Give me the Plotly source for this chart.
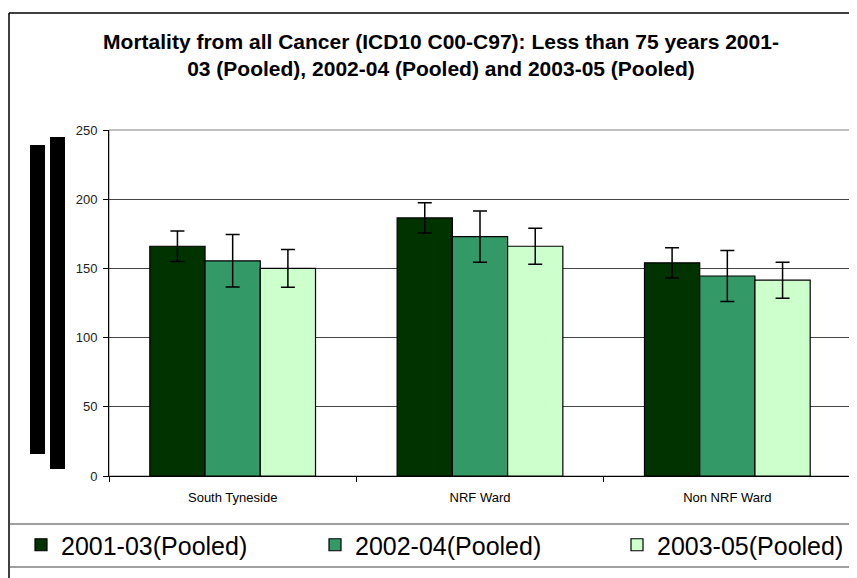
import plotly.graph_objects as go

categories = ["South Tyneside", "NRF Ward", "Non NRF Ward"]
series_names = ["2001-03(Pooled)", "2002-04(Pooled)", "2003-05(Pooled)"]
values_2001 = [166, 186.5, 154]
values_2002 = [155.5, 173, 144.5]
values_2003 = [150, 166, 141.5]
err_2001 = [11, 11, 11]
err_2002 = [19, 18.5, 18.5]
err_2003 = [13.7, 13, 13]
colors = ["#003300", "#339966", "#CCFFCC"]
y_ticks = [0, 50, 100, 150, 200, 250]

# page body has an 8px margin; work in screen pixels and shift
OFF = 8
W, H = 857 - OFF, 578 - OFF
L, R, T, B = 109 - OFF, 851 - OFF, 130 - OFF, 476 - OFF
pw, ph = R - L, B - T

def px(x):  # screen x -> paper
    return (x - OFF - L) / pw

def py(y):  # screen y -> paper
    return (B - (y - OFF)) / ph

fig = go.Figure()
legend_ids = ["legend", "legend2", "legend3"]
for name, vals, errs, col, lg in zip(series_names, [values_2001, values_2002, values_2003],
                                     [err_2001, err_2002, err_2003], colors, legend_ids):
    fig.add_trace(go.Bar(
        x=categories, y=vals, name=name, legend=lg, showlegend=True,
        marker=dict(color=col, line=dict(color="#000000", width=1.2)),
        error_y=dict(type="data", array=errs, visible=True, color="#000000",
                     thickness=1.5, width=7),
    ))

shapes = [
    dict(type="rect", xref="paper", yref="paper", x0=0, x1=1, y0=0, y1=1,
         line=dict(color="#808080", width=1), layer="below"),
    dict(type="line", xref="paper", yref="paper", x0=px(9), x1=px(870), y0=py(13), y1=py(13),
         line=dict(color="#000000", width=1.5)),
    dict(type="line", xref="paper", yref="paper", x0=px(9), x1=px(9), y0=py(13), y1=py(600),
         line=dict(color="#000000", width=1.5)),
    dict(type="line", xref="paper", yref="paper", x0=px(9), x1=px(870), y0=py(524), y1=py(524),
         line=dict(color="#404040", width=1.2)),
    dict(type="line", xref="paper", yref="paper", x0=px(9), x1=px(870), y0=py(567), y1=py(567),
         line=dict(color="#404040", width=1.2)),
    dict(type="rect", xref="paper", yref="paper", x0=px(30), x1=px(45), y0=py(454), y1=py(145),
         fillcolor="#000000", line=dict(width=0)),
    dict(type="rect", xref="paper", yref="paper", x0=px(50), x1=px(65), y0=py(469), y1=py(137),
         fillcolor="#000000", line=dict(width=0)),
]

def leg(text_x):
    return dict(orientation="h", x=px(text_x - 41), xanchor="left", y=py(545), yanchor="middle",
                font=dict(size=25, family="Arial, Liberation Sans, sans-serif", color="#000000"),
                bgcolor="rgba(0,0,0,0)", itemclick=False, itemdoubleclick=False, visible=True)

fig.update_layout(
    width=W, height=H, showlegend=True,
    margin=dict(l=L, r=W - R, t=T, b=H - B, pad=0),
    paper_bgcolor="#ffffff", plot_bgcolor="#ffffff",
    barmode="group", bargap=0.33, bargroupgap=0,
    font=dict(family="Arial, Liberation Sans, sans-serif", color="#000000"),
    title=dict(
        text="<b>Mortality from all Cancer (ICD10 C00-C97): Less than 75 years 2001-<br>"
             "03 (Pooled), 2002-04 (Pooled) and 2003-05 (Pooled)</b>",
        x=px(441), xanchor="center", xref="paper",
        y=1 - (49 - OFF) / H, yanchor="middle",
        font=dict(size=21, family="Arial, Liberation Sans, sans-serif", color="#000000"),
    ),
    xaxis=dict(
        showline=True, linecolor="#000000", linewidth=1,
        ticks="outside", ticklen=5, tickcolor="#000000", tickson="boundaries",
        tickfont=dict(size=13), ticklabelstandoff=9, showgrid=False,
    ),
    yaxis=dict(
        range=[0, 250], tickvals=y_ticks, showline=True, linecolor="#000000", linewidth=1,
        ticks="outside", ticklen=5, tickcolor="#000000", ticklabelstandoff=3,
        tickfont=dict(size=13, color="#222222"), showgrid=True, gridcolor="#444444", gridwidth=1,
        zeroline=False,
    ),
    legend=leg(62),
    legend2=leg(356),
    legend3=leg(658),
    shapes=shapes,
)

fig.write_html("out.html")
